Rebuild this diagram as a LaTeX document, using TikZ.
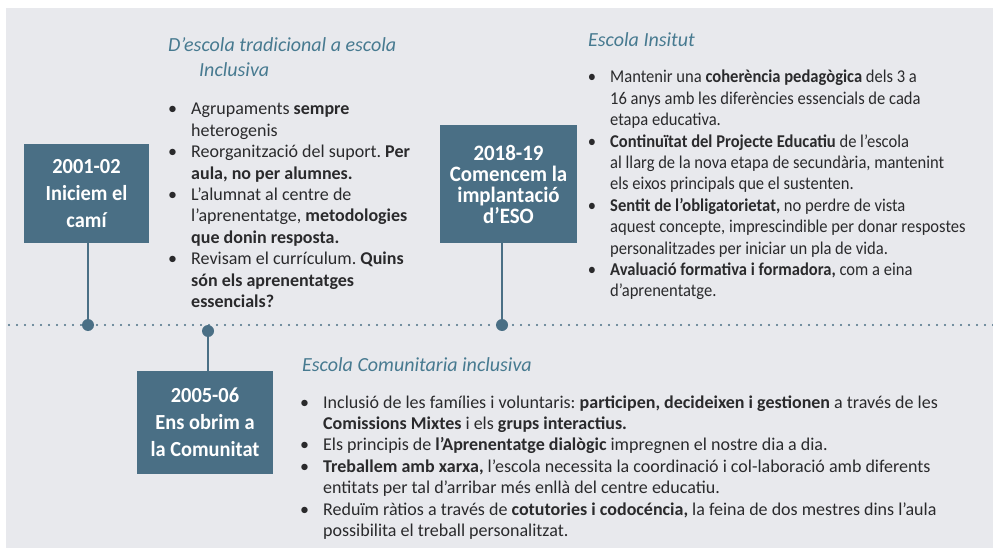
\documentclass[tikz,border=0pt]{standalone}
\usepackage{fontspec}
\setmainfont{Carlito}
\newfontfamily\narrowfont{Carlito}[FakeStretch=0.92]
\newfontfamily\boxfont{Carlito}[FakeStretch=0.95]
\usepackage{xcolor}
\definecolor{tlSlate}{HTML}{4A6F85}
\definecolor{tlPanel}{HTML}{E8E9ED}
\definecolor{tlTitle}{HTML}{477A90}
\definecolor{tlInk}{HTML}{2A2A2C}
\usetikzlibrary{positioning,calc}
\frenchspacing
\newenvironment{tlbullets}{\begin{list}{\textbullet}{%
  \setlength{\leftmargin}{19pt}\setlength{\labelsep}{14pt}%
  \setlength{\labelwidth}{10pt}\setlength{\itemsep}{0pt}%
  \setlength{\parsep}{0pt}\setlength{\topsep}{0pt}%
  \setlength{\partopsep}{0pt}}}{\end{list}}
\newcommand{\tlblock}[3]{\begin{minipage}[t]{#1}#2\raggedright
  \fontsize{18}{21.4}\selectfont\begin{tlbullets}#3\end{tlbullets}\end{minipage}}

\begin{document}
\begin{tikzpicture}[x=1pt, y=-1pt,
    tlbox/.style={fill=tlSlate, text=white, align=center, inner sep=0pt,
      font={\boxfont\bfseries\fontsize{21.5}{27}\selectfont}},
    tldot/.style={circle, fill=tlSlate, minimum size=12pt, inner sep=0pt},
    tlstem/.style={draw=tlSlate, line width=1.3pt},
    tldots/.style={draw=tlSlate, line width=2.2pt, line cap=round, dash pattern=on 0pt off 8pt},
    tltitle/.style={text=tlTitle, inner sep=0pt, anchor=base west,
      font={\itshape\fontsize{20}{24}\selectfont}},
    tltext/.style={inner sep=0pt, anchor=base west, text=tlInk}]
    \useasboundingbox (0,0) rectangle (993,548);
    \fill[tlPanel] (6,8) rectangle (993,548);

    % time line
    \coordinate (lineL) at (9,325);
    \coordinate (lineR) at (993,325);
    \draw[tldots] (lineL) -- (lineR);

    % the three years
    \node[tlbox, minimum width=125pt, minimum height=99pt] (y2001) at (86.5,193.5) {2001-02\\Iniciem el\\camí};
    \node[tlbox, minimum width=137pt, minimum height=118pt,
      font={\boxfont\bfseries\fontsize{22}{21}\selectfont}] (y2018) at (508.5,184) {2018-19\\Comencem la\\implantació\\d’ESO};
    \node[tlbox, minimum width=136pt, minimum height=103pt] (y2005) at (205,422.5) {2005-06\\Ens obrim a\\la Comunitat};

    \node[tldot] (d2001) at (88,325) {};
    \node[tldot] (d2005) at (208,331) {};
    \node[tldot] (d2018) at (502,325) {};
    \draw[tlstem] (d2001) -- (d2001 |- y2001.south);
    \draw[tlstem] (d2005) -- (d2005 |- y2005.north);
    \draw[tlstem] (d2018) -- (d2018 |- y2018.south);

    % titles
    \node[tltitle] (ttlInclA) at (168,52) {D’escola tradicional a escola};
    \node[tltitle] (ttlInclB) at (199,77) {Inclusiva};
    \node[tltitle] (ttlInst) at (588,47) {Escola Insitut};
    \node[tltitle] (ttlCom) at (302,371) {Escola Comunitaria inclusiva};

    % bullet lists
    \node[tltext] (txtIncl) at (172,115) {\tlblock{260pt}{}{%
      \item Agrupaments \textbf{sempre}\\heterogenis
      \item Reorganització del suport. \textbf{Per}\\\textbf{aula, no per alumnes.}
      \item L’alumnat al centre de\\l’aprenentatge, \textbf{metodologies}\\\textbf{que donin resposta.}
      \item Revisam el currículum. \textbf{Quins}\\\textbf{són els aprenentatges}\\\textbf{essencials?}}};
    \node[tltext] (txtInst) at (591,83) {\tlblock{400pt}{\narrowfont}{%
      \item Mantenir una \textbf{coherència pedagògica} dels 3 a\\16 anys amb les diferències essencials de cada\\etapa educativa.
      \item \textbf{Continuïtat del Projecte Educatiu} de l’escola\\al llarg de la nova etapa de secundària, mantenint\\els eixos principals que el sustenten.
      \item \textbf{Sentit de l’obligatorietat,} no perdre de vista\\aquest concepte, imprescindible per donar respostes\\personalitzades per iniciar un pla de vida.
      \item \textbf{Avaluació formativa i formadora,} com a eina\\d’aprenentatge.}};
    \node[tltext] (txtCom) at (304,408) {\tlblock{680pt}{}{%
      \item Inclusió de les famílies i voluntaris: \textbf{participen, decideixen i gestionen} a través de les\\\textbf{Comissions Mixtes} i els \textbf{grups interactius.}
      \item Els principis de \textbf{l’Aprenentatge dialògic} impregnen el nostre dia a dia.
      \item \textbf{Treballem amb xarxa,} l’escola necessita la coordinació i col-laboració amb diferents\\entitats per tal d’arribar més enllà del centre educatiu.
      \item Reduïm ràtios a través de \textbf{cotutories i codocéncia,} la feina de dos mestres dins l’aula\\possibilita el treball personalitzat.}};
\end{tikzpicture}
\end{document}
